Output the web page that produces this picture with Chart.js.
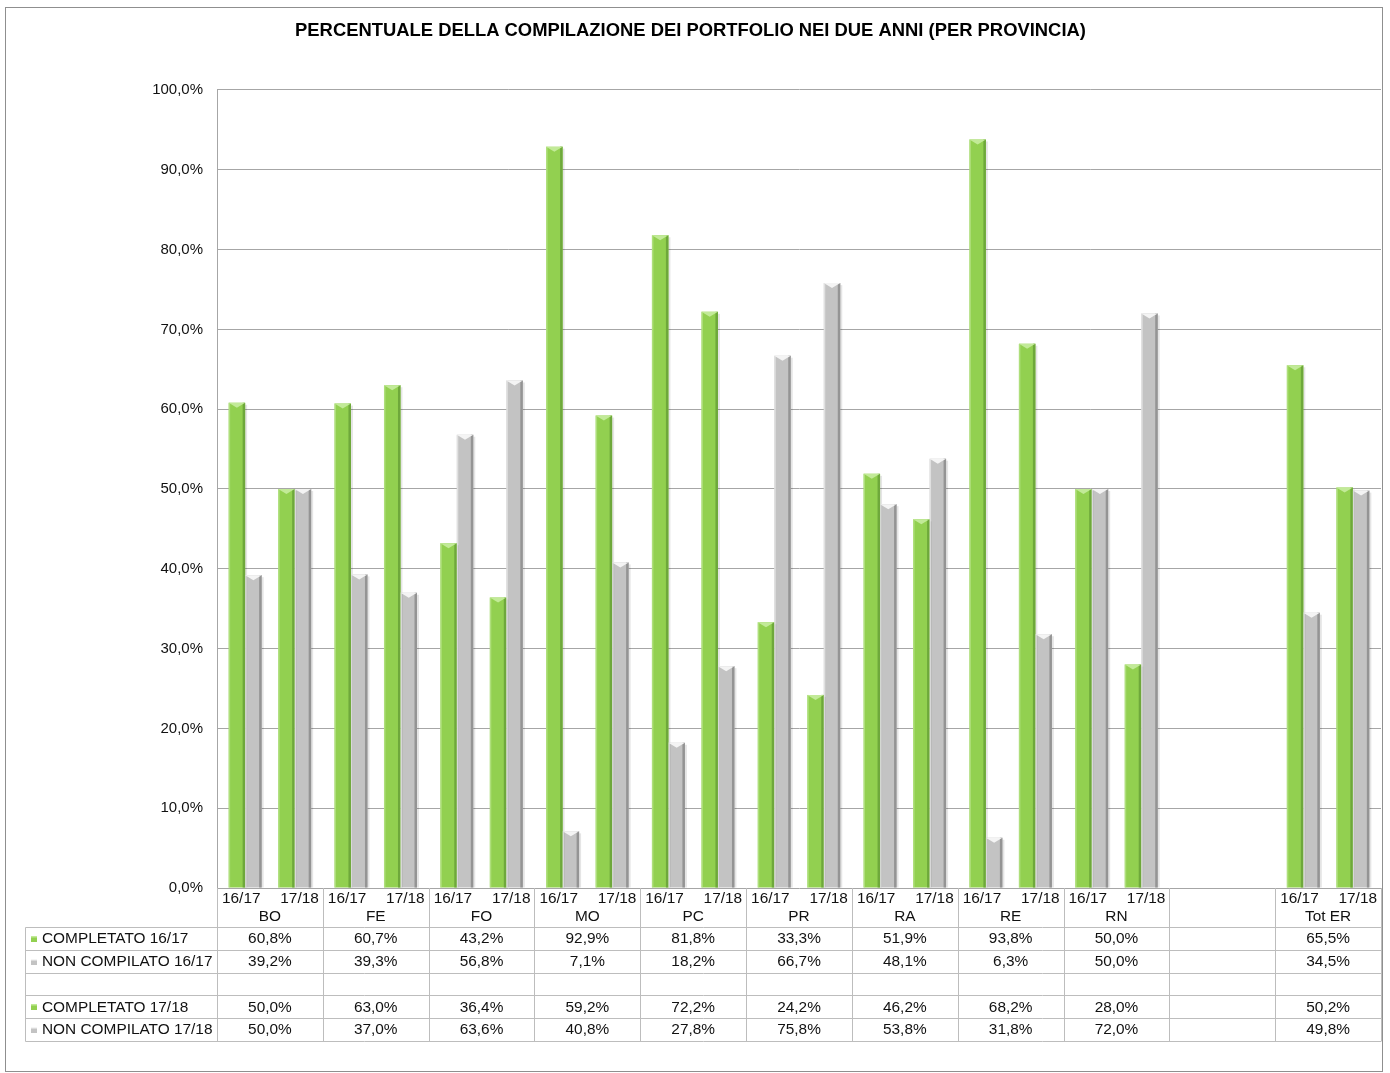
<!DOCTYPE html>
<html lang="it">
<head>
<meta charset="utf-8">
<title>Percentuale della compilazione dei portfolio</title>
<script src="https://cdn.jsdelivr.net/npm/chart.js@4/dist/chart.umd.min.js"></script>
<style>
  html, body { margin: 0; padding: 0; background: #fff; }
  canvas { display: block; }
</style>
</head>
<body>
<canvas id="portfolioChart" width="1390" height="1073"></canvas>
<script>
// Province (la colonna vuota separa il totale regionale)
const province = ['BO', 'FE', 'FO', 'MO', 'PC', 'PR', 'RA', 'RE', 'RN', '', 'Tot ER'];
const anni = ['16/17', '17/18'];

const completato1617 = [60.8, 60.7, 43.2, 92.9, 81.8, 33.3, 51.9, 93.8, 50.0, null, 65.5];
const nonCompilato1617 = [39.2, 39.3, 56.8, 7.1, 18.2, 66.7, 48.1, 6.3, 50.0, null, 34.5];
const completato1718 = [50.0, 63.0, 36.4, 59.2, 72.2, 24.2, 46.2, 68.2, 28.0, null, 50.2];
const nonCompilato1718 = [50.0, 37.0, 63.6, 40.8, 27.8, 75.8, 53.8, 31.8, 72.0, null, 49.8];

// Asse Y: da 0 a 100 a passi di 10
const yMin = 0;
const yMax = 100;
const yStep = 10;

const FONT = "'Liberation Sans', Arial, sans-serif";
const colori = {
    verde: { fill: '#92D050', light: '#C2EA98', dark: '#6EA83B' },
    grigio: { fill: '#C3C3C3', light: '#F4F4F4', dark: '#949494' }
};

const fmt = v => v.toFixed(1).replace('.', ',') + '%';

// Righe della tabella dati (null = riga vuota)
const righe = [
    { label: 'COMPLETATO 16/17', data: completato1617, col: colori.verde },
    { label: 'NON COMPILATO 16/17', data: nonCompilato1617, col: colori.grigio },
    null,
    { label: 'COMPLETATO 17/18', data: completato1718, col: colori.verde },
    { label: 'NON COMPILATO 17/18', data: nonCompilato1718, col: colori.grigio }
];

// Cornice e sfondo
const cornice = {
    id: 'cornice',
    beforeDraw(chart) {
        const ctx = chart.ctx;
        ctx.save();
        ctx.fillStyle = '#fff';
        ctx.fillRect(0, 0, chart.width, chart.height);
        ctx.strokeStyle = '#8F8F8F';
        ctx.lineWidth = 1;
        ctx.strokeRect(5.5, 7.5, 1377, 1064);
        ctx.restore();
    }
};

// Effetto "smussato" delle barre, come in Excel
const smusso = {
    id: 'smusso',
    afterDatasetsDraw(chart) {
        const ctx = chart.ctx;
        ctx.save();
        chart.data.datasets.forEach((ds, di) => {
            if (!ds.col) return;
            chart.getDatasetMeta(di).data.forEach((el, i) => {
                if (ds.data[i] == null) return;
                const { x, y, base, width } = el.getProps(['x', 'y', 'base', 'width'], true);
                const l = x - width / 2, r = x + width / 2, h = base - y;
                ctx.fillStyle = 'rgba(0,0,0,0.10)';
                ctx.fillRect(r, y + 2, 2, h - 2);
                ctx.fillStyle = ds.col.dark;
                ctx.fillRect(r - 2.5, y, 2.5, h);
                ctx.fillStyle = ds.col.light;
                ctx.globalAlpha = 0.6;
                ctx.fillRect(l, y, 1.5, h);
                ctx.globalAlpha = 1;
                ctx.beginPath();
                ctx.moveTo(l, y);
                ctx.lineTo(r, y);
                ctx.lineTo(x, y + 5);
                ctx.closePath();
                ctx.fill();
            });
        });
        ctx.restore();
    }
};

// Tabella dati sotto l'area del grafico
const tabella = {
    id: 'tabella',
    afterDraw(chart) {
        const ctx = chart.ctx;
        const area = chart.chartArea;
        const xs = chart.scales.x;
        const passo = area.width / province.length;
        const top = area.bottom;
        const headerBottom = top + 39;
        const rowH = 22.8;
        const bottom = headerBottom + rowH * righe.length;
        const tabLeft = 25;
        const px = v => Math.round(v) + 0.5;

        ctx.save();
        ctx.strokeStyle = '#BDBDBD';
        ctx.lineWidth = 1;
        ctx.beginPath();
        for (let i = 0; i <= province.length; i++) {
            const xv = px(area.left + i * passo);
            ctx.moveTo(xv, top);
            ctx.lineTo(xv, bottom);
        }
        ctx.moveTo(px(tabLeft), px(headerBottom));
        ctx.lineTo(px(tabLeft), px(bottom));
        for (let r = 0; r <= righe.length; r++) {
            const yv = px(headerBottom + r * rowH);
            ctx.moveTo(px(tabLeft), yv);
            ctx.lineTo(px(area.right), yv);
        }
        ctx.stroke();

        ctx.fillStyle = '#111';
        ctx.font = '15.4px ' + FONT;
        ctx.textBaseline = 'middle';
        province.forEach((p, i) => {
            const c = xs.getPixelForValue(i);
            const l = c - passo / 2;
            if (p) {
                ctx.textAlign = 'left';
                ctx.fillText(anni[0], l + 5, top + 11);
                ctx.textAlign = 'right';
                ctx.fillText(anni[1], l + passo - 4, top + 11);
                ctx.textAlign = 'center';
                ctx.fillText(p, c, top + 29);
            }
        });

        righe.forEach((riga, r) => {
            if (!riga) return;
            const cy = headerBottom + r * rowH + rowH / 2 + 0.5;
            ctx.fillStyle = riga.col.fill;
            ctx.fillRect(31, Math.round(cy) - 3, 6, 6);
            ctx.fillStyle = riga.col.light;
            ctx.fillRect(31, Math.round(cy) - 3, 6, 1.5);
            ctx.fillStyle = '#111';
            ctx.textAlign = 'left';
            ctx.fillText(riga.label, 42, cy);
            ctx.textAlign = 'center';
            riga.data.forEach((v, i) => {
                if (v == null) return;
                ctx.fillText(fmt(v), xs.getPixelForValue(i), cy);
            });
        });
        ctx.restore();
    }
};

const barra = (label, data, col) => ({
    label,
    data,
    col,
    backgroundColor: col.fill,
    borderWidth: 0
});

new Chart(document.getElementById('portfolioChart'), {
    type: 'bar',
    data: {
        labels: province,
        datasets: [
            barra('COMPLETATO 16/17', completato1617, colori.verde),
            barra('NON COMPILATO 16/17', nonCompilato1617, colori.grigio),
            // spazio vuoto tra i due anni
            { label: '', data: province.map(() => null), backgroundColor: 'transparent' },
            barra('COMPLETATO 17/18', completato1718, colori.verde),
            barra('NON COMPILATO 17/18', nonCompilato1718, colori.grigio)
        ]
    },
    options: {
        responsive: false,
        animation: false,
        devicePixelRatio: 1,
        layout: { padding: { left: 0, right: 9, top: 0, bottom: 185 } },
        datasets: {
            bar: { categoryPercentage: 0.78, barPercentage: 1 }
        },
        plugins: {
            legend: { display: false },
            tooltip: { enabled: false },
            title: {
                display: true,
                text: 'PERCENTUALE DELLA COMPILAZIONE DEI PORTFOLIO NEI DUE ANNI (PER PROVINCIA)',
                color: '#000',
                font: { family: FONT, size: 18.4, weight: 'bold' },
                padding: { top: 20, bottom: 47.9 }
            }
        },
        scales: {
            x: { display: false },
            y: {
                min: yMin,
                max: yMax,
                afterFit: s => { s.width = 217; },
                border: { display: true, color: '#A6A6A6' },
                grid: { color: '#A6A6A6', drawTicks: false },
                ticks: {
                    stepSize: yStep,
                    padding: 14,
                    color: '#111',
                    font: { family: FONT, size: 15 },
                    callback: v => fmt(v)
                }
            }
        }
    },
    plugins: [cornice, smusso, tabella]
});
</script>
</body>
</html>
